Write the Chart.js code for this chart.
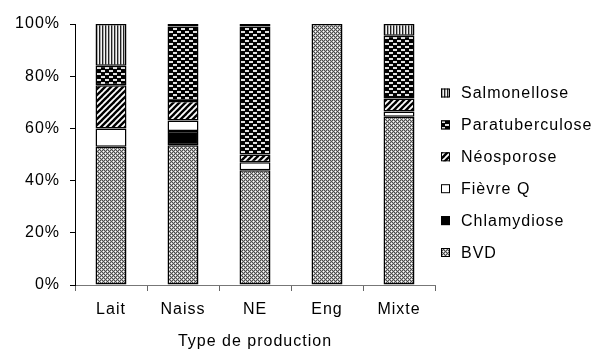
<!DOCTYPE html>
<html>
<head>
<meta charset="utf-8">
<script src="https://cdn.jsdelivr.net/npm/chart.js@4"></script>
<style>
html,body{margin:0;padding:0;background:#fff;}
#wrap{width:607px;height:354px;}
</style>
</head>
<body>
<div id="wrap"><canvas id="c" width="607" height="354"></canvas></div>
<script>
// ---- data ----
const categories = ["Lait", "Naiss", "NE", "Eng", "Mixte"];
const seriesNames = ["BVD", "Chlamydiose", "Fièvre Q", "Néosporose", "Paratuberculose", "Salmonellose"];
const bvd            = [53, 53.5, 44, 100, 64.5];
const chlamydiose    = [0, 5.5, 0, 0, 0];
const fievreQ        = [7, 4, 3, 0, 2];
const neosporose     = [16.5, 7.5, 3, 0, 5];
const paratuberculose= [7.5, 28.5, 49, 0, 24];
const salmonellose   = [16, 1, 1, 0, 4.5];
const yTicks = [0, 20, 40, 60, 80, 100];
const xTitle = "Type de production";

const FONT = '"Liberation Sans", Arial, sans-serif';
const FSIZE = 16;
const SPACING = '1px';

// ---- patterns ----
function makeTile(w, h, draw) {
  const c = document.createElement('canvas');
  c.width = w; c.height = h;
  const g = c.getContext('2d');
  draw(g, w, h);
  return c;
}
const ctx0 = document.getElementById('c').getContext('2d');
const tiles = {
  BVD: makeTile(4, 4, (g) => {
    for (let y = 0; y < 4; y++) for (let x = 0; x < 4; x++) {
      g.fillStyle = ((x + y) % 2 === 0) ? '#4c4c4c' : '#b4b4b4';
      if (x % 2 === 1 && y % 2 === 1 && (x + y) % 4 === 2) g.fillStyle = '#ffffff';
      g.fillRect(x, y, 1, 1);
    }
  }),
  Neo: makeTile(6, 6, (g) => {
    g.fillStyle = '#fff'; g.fillRect(0, 0, 6, 6);
    g.strokeStyle = '#000'; g.lineWidth = 2.4;
    for (let k = -1; k <= 1; k++) {
      g.beginPath(); g.moveTo(-6 + k * 6, 12); g.lineTo(12 + k * 6, -6); g.stroke();
    }
  }),
  Para: makeTile(8, 6, (g) => {
    g.fillStyle = '#000'; g.fillRect(0, 0, 8, 6);
    g.fillStyle = '#e0e0e0';
    g.fillRect(1, 1, 4, 2);
    g.fillRect(5, 4, 3, 2); g.fillRect(0, 4, 1, 2);
  }),
  Salm: makeTile(3, 2, (g) => {
    g.fillStyle = '#222'; g.fillRect(0, 0, 1, 2);
    g.fillStyle = '#a8a8a8'; g.fillRect(1, 0, 1, 2);
    g.fillStyle = '#f4f4f4'; g.fillRect(2, 0, 1, 2);
  })
};
const pat = (t) => ctx0.createPattern(t, 'repeat');
const fills = [pat(tiles.BVD), '#000000', '#ffffff', pat(tiles.Neo), pat(tiles.Para), pat(tiles.Salm)];
const seriesData = [bvd, chlamydiose, fievreQ, neosporose, paratuberculose, salmonellose];

const datasets = seriesNames.map((n, i) => ({
  label: n,
  data: seriesData[i],
  backgroundColor: fills[i],
  borderColor: '#000',
  borderWidth: 1.5,
  borderSkipped: false,
  categoryPercentage: 1.0,
  barPercentage: 0.43
}));

// letter spacing to match the wide text of the reference
const spacingPlugin = {
  id: 'spacing',
  beforeUpdate(chart) { chart.ctx.letterSpacing = SPACING; },
  beforeLayout(chart) { chart.ctx.letterSpacing = SPACING; },
  beforeDraw(chart) { chart.ctx.letterSpacing = SPACING; }
};

// side legend drawn on canvas (real text)
const legendPlugin = {
  id: 'sideLegend',
  afterDraw(chart) {
    const ctx = chart.ctx;
    const ds = chart.data.datasets;
    ctx.save();
    ctx.letterSpacing = SPACING;
    ctx.font = FSIZE + 'px ' + FONT;
    ctx.textBaseline = 'middle';
    let y = 93;
    for (let i = ds.length - 1; i >= 0; i--) {
      const bx = 441, by = y - 4.5;
      ctx.fillStyle = ds[i].backgroundColor;
      ctx.fillRect(bx, by, 9, 9);
      ctx.strokeStyle = '#000'; ctx.lineWidth = 1;
      ctx.strokeRect(bx + 0.5, by + 0.5, 8, 8);
      ctx.fillStyle = '#000';
      ctx.fillText(ds[i].label, 461, y + 1);
      y += 31.9;
    }
    ctx.restore();
  }
};

new Chart(document.getElementById('c'), {
  type: 'bar',
  data: { labels: categories, datasets },
  plugins: [spacingPlugin, legendPlugin],
  options: {
    responsive: false,
    animation: false,
    layout: { padding: { left: 0, right: 172, top: 24, bottom: 0 } },
    plugins: { legend: { display: false }, tooltip: { enabled: false } },
    scales: {
      x: {
        stacked: true,
        grid: { display: true, offset: true, drawOnChartArea: false, drawTicks: true, tickLength: 6, color: '#666' },
        border: { display: true, color: '#777', width: 1 },
        ticks: { color: '#000', font: { family: FONT, size: FSIZE }, padding: 9, maxRotation: 0 },
        title: { display: true, text: xTitle, color: '#000', font: { family: FONT, size: FSIZE }, padding: { top: 4, bottom: 3 } },
        afterFit(s) { s.height = 69; }
      },
      y: {
        stacked: true,
        min: 0, max: 100,
        afterBuildTicks(s) { s.ticks = yTicks.map(v => ({ value: v })); },
        grid: { display: true, drawOnChartArea: false, drawTicks: true, tickLength: 5, color: '#000' },
        border: { display: true, color: '#000', width: 1 },
        ticks: { color: '#000', font: { family: FONT, size: FSIZE }, padding: 10, callback: v => v + '%' },
        afterFit(s) { s.width = 75; }
      }
    }
  }
});
</script>
</body>
</html>
